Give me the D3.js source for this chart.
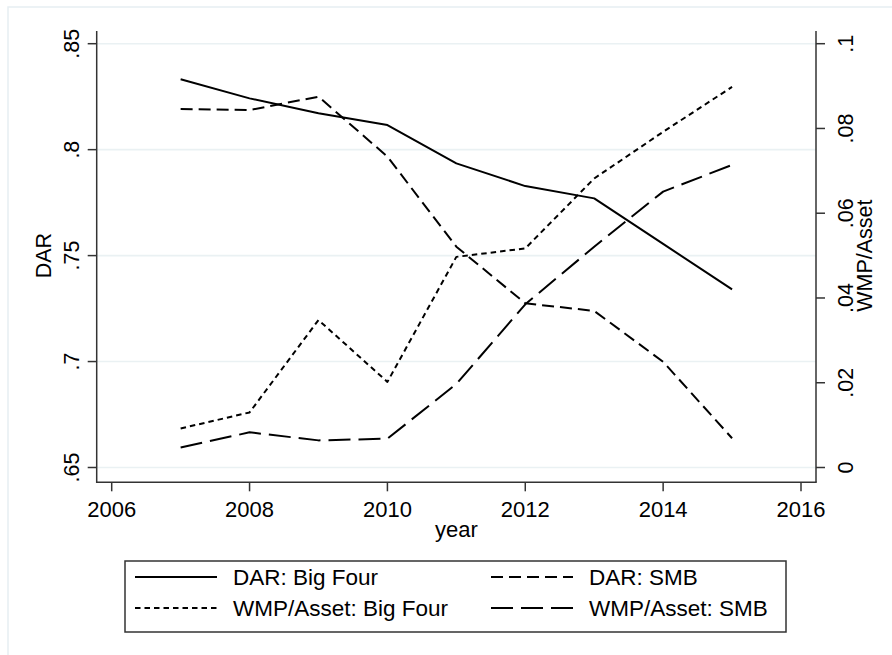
<!DOCTYPE html>
<html>
<head>
<meta charset="utf-8">
<script src="https://cdn.jsdelivr.net/npm/d3@7"></script>
<style>
  html, body { margin: 0; padding: 0; background: #fff; }
  svg { display: block; }
  text { font-family: "Liberation Sans", Arial, sans-serif; fill: #000; }
</style>
</head>
<body>
<svg id="chart" width="892" height="655"></svg>
<script>
// ---- data ----
const years  = [2007, 2008, 2009, 2010, 2011, 2012, 2013, 2014, 2015];
const darBig = [0.8332, 0.8242, 0.8172, 0.8116, 0.7935, 0.7828, 0.7770, 0.7555, 0.7341];
const darSMB = [0.8192, 0.8187, 0.8250, 0.7967, 0.7542, 0.7275, 0.7239, 0.6999, 0.6638];
const wmpBig = [0.0092, 0.0130, 0.0348, 0.0202, 0.0497, 0.0517, 0.0682, 0.0792, 0.0898];
const wmpSMB = [0.0047, 0.0083, 0.0064, 0.0068, 0.0197, 0.0385, 0.0521, 0.0651, 0.0714];

const xTicks = [2006, 2008, 2010, 2012, 2014, 2016];
const leftTicks  = [0.65, 0.70, 0.75, 0.80, 0.85];
const leftLabels = [".65", ".7", ".75", ".8", ".85"];
const rightTicks  = [0, 0.02, 0.04, 0.06, 0.08, 0.1];
const rightLabels = ["0", ".02", ".04", ".06", ".08", ".1"];

const legendLabels = ["DAR: Big Four", "DAR: SMB", "WMP/Asset: Big Four", "WMP/Asset: SMB"];
const dashes = [null, "12,6", "5.5,4", "22,8"];

// ---- layout ----
const svg = d3.select("#chart");
const plot = { left: 96.7, right: 816, top: 31, bottom: 482.3 };

const x  = d3.scaleLinear().domain([2006, 2016]).range([111.7, 801]);
const yL = d3.scaleLinear().domain([0.65, 0.85]).range([467.5, 43.7]);
const yR = d3.scaleLinear().domain([0, 0.1]).range([467.5, 43.7]);

const axisColor = "#333";
const gridColor = "#eaf1f3";

// outer frame
svg.append("rect").attr("x", 8).attr("y", 7).attr("width", 900).attr("height", 700)
  .attr("fill", "none").attr("stroke", "#e6eef2").attr("stroke-width", 1.5);

// gridlines
svg.append("g").selectAll("line").data(leftTicks).join("line")
  .attr("x1", plot.left).attr("x2", plot.right)
  .attr("y1", d => yL(d)).attr("y2", d => yL(d))
  .attr("stroke", gridColor).attr("stroke-width", 1.6);

// axis lines
svg.append("line").attr("x1", plot.left).attr("x2", plot.left)
  .attr("y1", plot.top).attr("y2", plot.bottom).attr("stroke", axisColor).attr("stroke-width", 1.5);
svg.append("line").attr("x1", plot.right).attr("x2", plot.right)
  .attr("y1", plot.top).attr("y2", plot.bottom).attr("stroke", axisColor).attr("stroke-width", 1.5);
svg.append("line").attr("x1", plot.left - 0.75).attr("x2", plot.right + 0.75)
  .attr("y1", plot.bottom).attr("y2", plot.bottom).attr("stroke", axisColor).attr("stroke-width", 1.5);

// left ticks + labels
const gl = svg.append("g");
gl.selectAll("line").data(leftTicks).join("line")
  .attr("x1", plot.left - 9).attr("x2", plot.left)
  .attr("y1", d => yL(d)).attr("y2", d => yL(d))
  .attr("stroke", axisColor).attr("stroke-width", 1.5);
gl.selectAll("text").data(leftTicks).join("text")
  .attr("transform", d => `translate(78.5,${yL(d)}) rotate(-90)`)
  .attr("text-anchor", "middle").attr("font-size", 21.5)
  .text((d, i) => leftLabels[i]);

// right ticks + labels
const gr = svg.append("g");
gr.selectAll("line").data(rightTicks).join("line")
  .attr("x1", plot.right).attr("x2", plot.right + 9)
  .attr("y1", d => yR(d)).attr("y2", d => yR(d))
  .attr("stroke", axisColor).attr("stroke-width", 1.5);
gr.selectAll("text").data(rightTicks).join("text")
  .attr("transform", d => `translate(852.5,${yR(d)}) rotate(-90)`)
  .attr("text-anchor", "middle").attr("font-size", 21.5)
  .text((d, i) => rightLabels[i]);

// x ticks + labels
const gx = svg.append("g");
gx.selectAll("line").data(xTicks).join("line")
  .attr("x1", d => x(d)).attr("x2", d => x(d))
  .attr("y1", plot.bottom).attr("y2", plot.bottom + 9)
  .attr("stroke", axisColor).attr("stroke-width", 1.5);
gx.selectAll("text").data(xTicks).join("text")
  .attr("x", d => x(d)).attr("y", 516.5)
  .attr("text-anchor", "middle").attr("font-size", 22)
  .text(d => d);

// axis titles
svg.append("text").attr("x", (x(2006) + x(2016)) / 2).attr("y", 537)
  .attr("text-anchor", "middle").attr("font-size", 22).text("year");
svg.append("text").attr("transform", `translate(51,${(yL(0.65) + yL(0.85)) / 2}) rotate(-90)`)
  .attr("text-anchor", "middle").attr("font-size", 21.5).text("DAR");
svg.append("text").attr("transform", `translate(872,${(yR(0) + yR(0.1)) / 2}) rotate(-90)`)
  .attr("text-anchor", "middle").attr("font-size", 21.5).text("WMP/Asset");

// series
const series = [
  { vals: darBig, y: yL },
  { vals: darSMB, y: yL },
  { vals: wmpBig, y: yR },
  { vals: wmpSMB, y: yR }
];
series.forEach((s, i) => {
  const line = d3.line().x((d, j) => x(years[j])).y(d => s.y(d));
  svg.append("path").datum(s.vals)
    .attr("d", line)
    .attr("fill", "none").attr("stroke", "#000").attr("stroke-width", 2)
    .attr("stroke-linejoin", "round")
    .attr("stroke-dasharray", dashes[i]);
});

// legend
const lg = svg.append("g");
lg.append("rect").attr("x", 125).attr("y", 561).attr("width", 661).attr("height", 71)
  .attr("fill", "#fff").attr("stroke", axisColor).attr("stroke-width", 1.5);
const cols = [135, 491];
const rows = [577, 608];
legendLabels.forEach((lab, i) => {
  const cx = cols[i % 2], cy = rows[Math.floor(i / 2)];
  lg.append("line").attr("x1", cx).attr("x2", cx + 82).attr("y1", cy).attr("y2", cy)
    .attr("stroke", "#000").attr("stroke-width", 2).attr("stroke-dasharray", dashes[i]);
  lg.append("text").attr("x", cx + 98).attr("y", cy + 8).attr("font-size", 22.5).text(lab);
});
</script>
</body>
</html>
